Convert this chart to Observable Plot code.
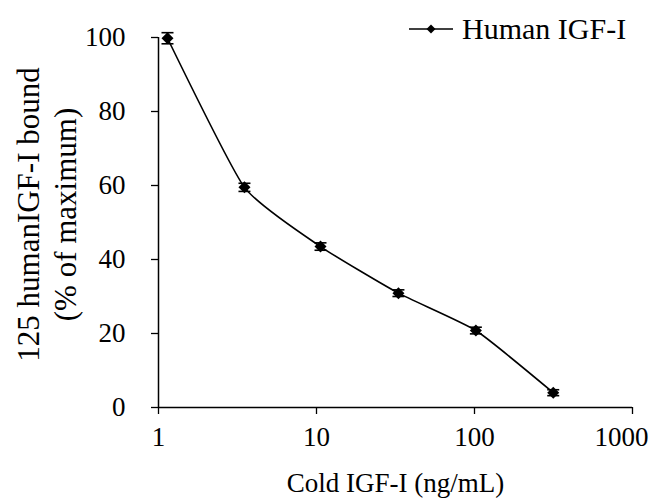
<!DOCTYPE html>
<html><head><meta charset="utf-8">
<script src="https://cdn.jsdelivr.net/npm/d3@7"></script>
<script src="https://cdn.jsdelivr.net/npm/@observablehq/plot@0.6"></script>
<style>
body{margin:0;background:#fff;}
#wrap{position:relative;width:653px;height:499px;font-family:"Liberation Serif","Times New Roman",serif;}
#legend{position:absolute;left:409px;top:14px;height:30px;display:flex;align-items:center;font-size:30px;line-height:30px;color:#000;font-family:"Liberation Serif","Times New Roman",serif;}
#legend span{margin-left:9px;white-space:nowrap;}
</style></head><body><div id="wrap"><div id="legend"></div></div>
<script>
const concentration = [1.14, 3.5, 10.6, 33, 102, 315];
const boundPct = [99.8, 59.5, 43.5, 30.9, 20.8, 4.0];
const errorPct = [1.5, 1.1, 1.0, 0.9, 0.9, 0.8];
const xTicks = [1, 10, 100, 1000];
const yTicks = [0, 20, 40, 60, 80, 100];
const seriesName = "Human IGF-I";
const xLabel = "Cold IGF-I (ng/mL)";
const yLabel = "125 humanIGF-I bound\n(% of maximum)";

const data = concentration.map((c, i) => ({x: c, y: boundPct[i], e: errorPct[i]}));
const cap = {draw(ctx) { ctx.moveTo(-6, 0); ctx.lineTo(6, 0); }};
const fs = 27;
const serif = "'Liberation Serif', 'Times New Roman', serif";

const chart = Plot.plot({
  width: 653, height: 499,
  marginLeft: 158, marginRight: 21, marginTop: 37, marginBottom: 92,
  style: {fontFamily: serif, color: "black", background: "white", overflow: "visible"},
  x: {type: "log", domain: [1, 1000], label: null},
  y: {domain: [0, 100], label: null},
  marks: [
    Plot.axisY({ticks: yTicks, tickSize: 7, tickPadding: 26, fontSize: fs, strokeWidth: 1.3, label: null}),
    Plot.axisX({ticks: xTicks, tickSize: 7, tickPadding: 12, fontSize: fs, strokeWidth: 1.3, label: null,
      tickFormat: d => d === 1000 ? "" : String(d)}),
    Plot.axisX({ticks: [1000], tickSize: 0, tickPadding: 19, fontSize: fs, label: null, textAnchor: "end", dx: 16,
      tickFormat: d => String(d)}),
    Plot.ruleX([1], {stroke: "black", strokeWidth: 1.5}),
    Plot.ruleY([0], {stroke: "black", strokeWidth: 1.5}),
    Plot.line(data, {x: "x", y: "y", curve: "cardinal", tension: 0.5, stroke: "black", strokeWidth: 1.6}),
    Plot.ruleX(data, {x: "x", y1: d => d.y - d.e, y2: d => d.y + d.e, stroke: "black", strokeWidth: 1.5}),
    Plot.dot(data, {x: "x", y: d => d.y + d.e, symbol: cap, stroke: "black", fill: "none", strokeWidth: 1.6}),
    Plot.dot(data, {x: "x", y: d => d.y - d.e, symbol: cap, stroke: "black", fill: "none", strokeWidth: 1.6}),
    Plot.dot(data, {x: "x", y: "y", symbol: "square", rotate: 45, r: 4.8, fill: "black", stroke: "none"}),
    Plot.text([yLabel], {text: d => d, frameAnchor: "left", rotate: -90, dx: -113, dy: -8, fontSize: 31, lineHeight: 1.2,
      lineAnchor: "middle", textAnchor: "middle", fill: "black", fontFamily: serif}),
    Plot.text([xLabel], {text: d => d, frameAnchor: "bottom", dy: 76, fontSize: fs, lineAnchor: "middle", fill: "black", fontFamily: serif})
  ]
});
document.getElementById("wrap").prepend(chart);

const legend = document.getElementById("legend");
legend.innerHTML = `<svg width="44" height="14" style="display:block"><line x1="0" y1="7" x2="44" y2="7" stroke="black" stroke-width="1.6"/><polygon points="22,2.5 26.5,7 22,11.5 17.5,7" fill="black"/></svg><span></span>`;
legend.querySelector("span").textContent = seriesName;
</script>
</body></html>
